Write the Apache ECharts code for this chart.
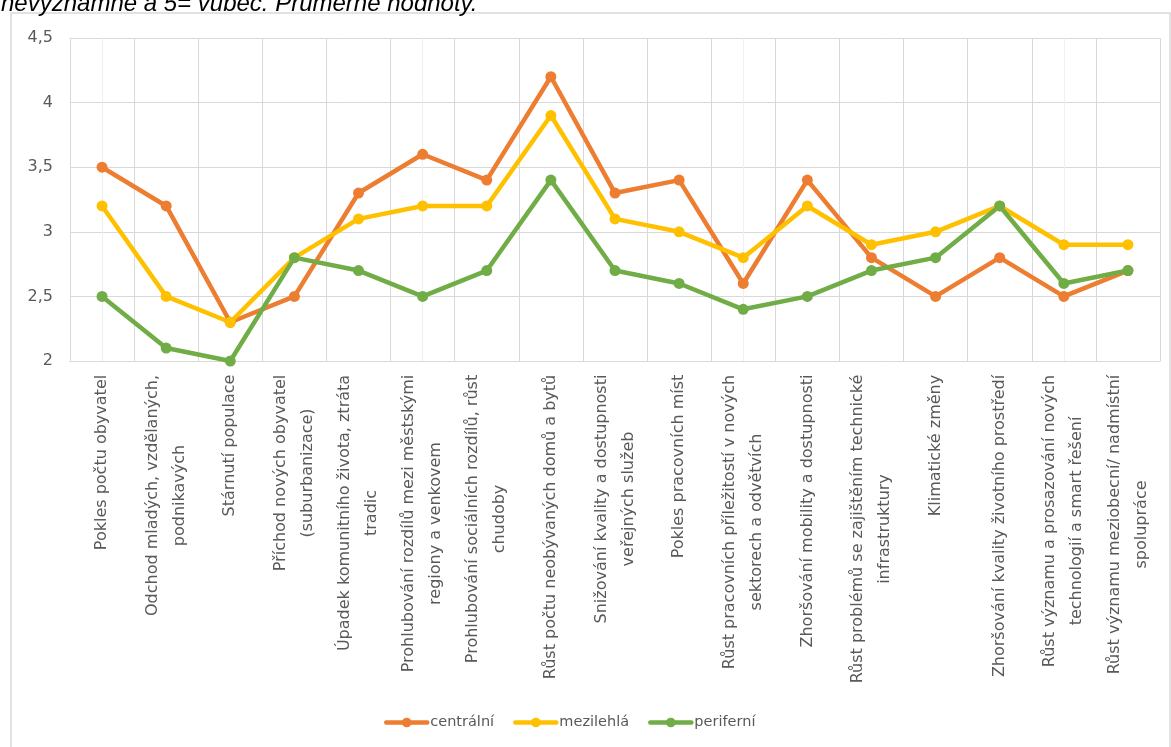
<!DOCTYPE html>
<html>
<head>
<meta charset="utf-8">
<script src="https://cdn.jsdelivr.net/npm/echarts@6/dist/echarts.min.js"></script>
<style>
html,body{margin:0;padding:0;background:#fff;}
#chart{width:1171px;height:747px;}
</style>
</head>
<body>
<div id="chart"></div>
<script>
const categories = [
  "Pokles počtu obyvatel",
  "Odchod mladých, vzdělaných,\npodnikavých",
  "Stárnutí populace",
  "Příchod nových obyvatel\n(suburbanizace)",
  "Úpadek komunitního života, ztráta\ntradic",
  "Prohlubování rozdílů mezi městskými\nregiony a venkovem",
  "Prohlubování sociálních rozdílů, růst\nchudoby",
  "Růst počtu neobývaných domů a bytů",
  "Snižování kvality a dostupnosti\nveřejných služeb",
  "Pokles pracovních míst",
  "Růst pracovních příležitostí v nových\nsektorech a odvětvích",
  "Zhoršování mobility a dostupnosti",
  "Růst problémů se zajištěním technické\ninfrastruktury",
  "Klimatické změny",
  "Zhoršování kvality životního prostředí",
  "Růst významu a prosazování nových\ntechnologií a smart řešení",
  "Růst významu meziobecní/ nadmístní\nspolupráce"
];
const centralni  = [3.5, 3.2, 2.3, 2.5, 3.3, 3.6, 3.4, 4.2, 3.3, 3.4, 2.6, 3.4, 2.8, 2.5, 2.8, 2.5, 2.7];
const mezilehla  = [3.2, 2.5, 2.3, 2.8, 3.1, 3.2, 3.2, 3.9, 3.1, 3.0, 2.8, 3.2, 2.9, 3.0, 3.2, 2.9, 2.9];
const periferni  = [2.5, 2.1, 2.0, 2.8, 2.7, 2.5, 2.7, 3.4, 2.7, 2.6, 2.4, 2.5, 2.7, 2.8, 3.2, 2.6, 2.7];
const seriesNames = ["centrální", "mezilehlá", "periferní"];
const titleText = "nevýznamné a 5= vůbec. Průměrné hodnoty.";

const labelFontFamily = '"DejaVu Sans"';
const labelFontSize = 16;
const labelColor = '#595959';

// measure lines so multi-line labels are centred line by line
const ctx = document.createElement('canvas').getContext('2d');
ctx.font = labelFontSize + 'px ' + labelFontFamily;
const rich = {};
categories.forEach((c, i) => {
  const w = Math.max(...c.split('\n').map(l => ctx.measureText(l).width));
  rich['c' + i] = {
    width: Math.ceil(w) + 1, align: 'center',
    fontSize: labelFontSize, fontFamily: labelFontFamily,
    color: labelColor, lineHeight: 27
  };
});

const chart = echarts.init(document.getElementById('chart'));
const colors = ['#ED7D31', '#FFC000', '#70AD47'];
function lineSeries(name, data, color) {
  return {
    name, type: 'line', data,
    xAxisIndex: 0, yAxisIndex: 0,
    symbol: 'circle', symbolSize: 11,
    itemStyle: { color },
    lineStyle: { color, width: 4.5, cap: 'round', join: 'round' },
    emphasis: { disabled: true }
  };
}

chart.setOption({
  animation: false,
  backgroundColor: '#fff',
  graphic: [
    {
      type: 'rect', silent: true, z: -10,
      shape: { x: 11, y: 13, width: 1159, height: 800 },
      style: { fill: 'none', stroke: '#D9D9D9', lineWidth: 1.5 }
    },
    {
      type: 'text', silent: true,
      style: {
        text: titleText, x: 1, y: 16,
        font: 'italic 24px "Liberation Sans"',
        fill: '#000', verticalAlign: 'bottom', align: 'left'
      }
    }
  ],
  grid: { left: 70, right: 11, top: 38, bottom: 386, containLabel: false },
  legend: {
    data: seriesNames,
    left: 379, top: 710,
    itemWidth: 41, itemHeight: 12, itemGap: 19,
    lineStyle: { width: 4.5 },
    textStyle: { fontFamily: labelFontFamily, fontSize: 14.5, color: labelColor, padding: [0, 0, 0, -2] },
    selectedMode: false
  },
  xAxis: [
    {
      type: 'category', data: categories, boundaryGap: true,
      axisLine: { show: true, lineStyle: { color: '#D9D9D9', width: 1 } },
      axisTick: { show: false },
      splitLine: { show: true, lineStyle: { color: '#D9D9D9', width: 1 } },
      axisLabel: {
        interval: 0, rotate: 90, margin: 13,
        fontFamily: labelFontFamily, fontSize: labelFontSize, color: labelColor,
        lineHeight: 27,
        formatter: (v, i) => v.split('\n').map(l => '{c' + i + '|' + l + '}').join('\n'),
        rich
      }
    },
    {
      type: 'category', data: categories, boundaryGap: true, position: 'bottom',
      axisLine: { show: false }, axisTick: { show: false }, axisLabel: { show: false },
      splitLine: { show: true, alignWithLabel: true, lineStyle: { color: '#EFEFEF', width: 1 } }
    }
  ],
  yAxis: {
    type: 'value', min: 2, max: 4.5, interval: 0.5,
    axisLine: { show: false }, axisTick: { show: false },
    splitLine: { lineStyle: { color: '#D9D9D9', width: 1 } },
    axisLabel: {
      margin: 17, fontFamily: labelFontFamily, fontSize: 16, color: labelColor,
      formatter: v => String(v).replace('.', ',')
    }
  },
  series: [
    lineSeries(seriesNames[0], centralni, colors[0]),
    lineSeries(seriesNames[1], mezilehla, colors[1]),
    lineSeries(seriesNames[2], periferni, colors[2])
  ]
});
</script>
</body>
</html>
